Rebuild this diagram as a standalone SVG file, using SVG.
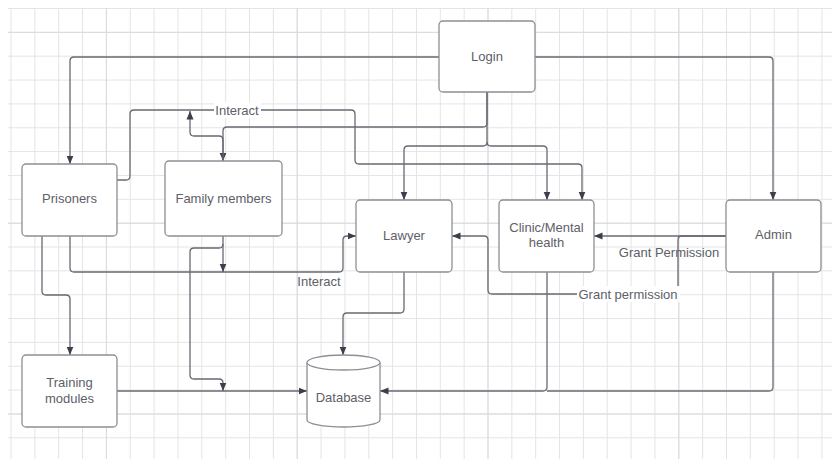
<svg xmlns="http://www.w3.org/2000/svg" width="832" height="459" viewBox="0 0 832 459">
  <defs>
    <pattern id="grid" x="10.5" y="8" width="23.85" height="23.85" patternUnits="userSpaceOnUse">
      <path d="M0.5,0 V23.85 M0,0.5 H23.85" stroke="#e4e4e6" stroke-width="1" fill="none"/>
    </pattern>
    <marker id="arr" markerUnits="userSpaceOnUse" markerWidth="9" markerHeight="8" refX="8.5" refY="4" orient="auto">
      <path d="M0,0.5 L8.5,4 L0,7.5 Z" fill="#3a3f4a"/>
    </marker>
  </defs>
  <style>
    .node rect, .node path { fill: #ffffff; stroke: #8c8f95; stroke-width: 1.3; }
    .lbl { font-family: "Liberation Sans", Arial, sans-serif; font-size: 13px; fill: #5d6068; text-anchor: middle; }
    .conn path { fill: none; stroke: #676a72; stroke-width: 1.3; }
    .conn path.a { marker-end: url(#arr); }
    .major { stroke: #dadadd; stroke-width: 1; }
  </style>
  <rect width="832" height="459" fill="#ffffff"/>
  <rect x="8" y="8" width="824" height="451" fill="url(#grid)"/>
  <g id="grid-major">
    <line class="major" x1="106.4" y1="8" x2="106.4" y2="459"/>
    <line class="major" x1="297.2" y1="8" x2="297.2" y2="459"/>
    <line class="major" x1="488" y1="8" x2="488" y2="459"/>
    <line class="major" x1="678.8" y1="8" x2="678.8" y2="459"/>
    <line class="major" x1="8" y1="32.4" x2="832" y2="32.4"/>
    <line class="major" x1="8" y1="223.2" x2="832" y2="223.2"/>
    <line class="major" x1="8" y1="414" x2="832" y2="414"/>
  </g>

  <g id="connectors" class="conn">
    <path class="a" d="M439,57 H74 Q70,57 70,61 V164"/>
    <path class="a" d="M535,57 H769 Q773,57 773,61 V200"/>
    <path class="a" d="M487,92 V142 Q487,146 483,146 H408 Q404,146 404,150 V200"/>
    <path class="a" d="M487,142 Q487,146 491,146 H543 Q547,146 547,150 V200"/>
    <path class="a" d="M487,92 V123 Q487,127 483,127 H227 Q223,127 223,131 V161"/>
    <path class="a" d="M117,180 H126 Q130,180 130,176 V114 Q130,110 134,110 H351 Q355,110 355,114 V160 Q355,164 359,164 H578 Q582,164 582,168 V200"/>
    <path class="a" d="M223,161 V140 Q223,136 219,136 H194 Q190,136 190,132 V111"/>
    <path class="a" d="M70,236 V268 Q70,272 74,272 H339 Q343,272 343,268 V240 Q343,236 347,236 H356"/>
    <path class="a" d="M42,236 V291 Q42,295 46,295 H66 Q70,295 70,299 V355"/>
    <path class="a" d="M223,236 V272"/>
    <path class="a" d="M223,244 Q223,248 219,248 H194 Q190,248 190,252 V375 Q190,379 194,379 H219 Q223,379 223,383 V391"/>
    <path class="a" d="M117,391 H307"/>
    <path class="a" d="M404,272 V309 Q404,313 400,313 H347 Q343,313 343,317 V355"/>
    <path class="a" d="M547,272 V387 Q547,391 543,391 H380"/>
    <path d="M773,272 V387 Q773,391 769,391 H547"/>
    <path class="a" d="M726,236 H594"/>
    <path class="a" d="M726,236 H682 Q678,236 678,240 V294 H492 Q488,294 488,290 V240 Q488,236 484,236 H452"/>
    <g id="conn-labels">
      <rect x="214" y="102" width="47" height="16" fill="#ffffff"/>
      <text class="lbl" x="237" y="114.5">Interact</text>
      <text class="lbl" x="319" y="285.5">Interact</text>
      <text class="lbl" x="669" y="256.5">Grant Permission</text>
      <rect x="577" y="286" width="103" height="16" fill="#ffffff"/>
      <text class="lbl" x="628" y="298.5">Grant permission</text>
    </g>
  </g>

  <g id="login" class="node">
    <rect x="439" y="21" width="96" height="71" rx="4"/>
    <text class="lbl" x="487" y="60.5">Login</text>
  </g>
  <g id="prisoners" class="node">
    <rect x="22" y="164" width="95" height="72" rx="4"/>
    <text class="lbl" x="69.5" y="202.5">Prisoners</text>
  </g>
  <g id="family" class="node">
    <rect x="165" y="161" width="117" height="75" rx="4"/>
    <text class="lbl" x="223.5" y="202.5">Family members</text>
  </g>
  <g id="lawyer" class="node">
    <rect x="356" y="200" width="96" height="72" rx="4"/>
    <text class="lbl" x="404" y="239.5">Lawyer</text>
  </g>
  <g id="clinic" class="node">
    <rect x="499" y="200" width="95" height="72" rx="4"/>
    <text class="lbl" x="546.5" y="231.5">Clinic/Mental</text>
    <text class="lbl" x="546.5" y="247">health</text>
  </g>
  <g id="admin" class="node">
    <rect x="726" y="200" width="95" height="72" rx="4"/>
    <text class="lbl" x="773.5" y="239">Admin</text>
  </g>
  <g id="training" class="node">
    <rect x="22" y="355" width="95" height="72" rx="4"/>
    <text class="lbl" x="69.5" y="386.5">Training</text>
    <text class="lbl" x="69.5" y="402.5">modules</text>
  </g>
  <g id="database" class="node">
    <path d="M307,362.5 A36.5,7.5 0 0,1 380,362.5 V420 A36.5,7 0 0,1 307,420 Z"/>
    <path d="M307,362.5 A36.5,7.5 0 0,0 380,362.5" fill="none"/>
    <text class="lbl" x="343.5" y="401.5">Database</text>
  </g>
</svg>
